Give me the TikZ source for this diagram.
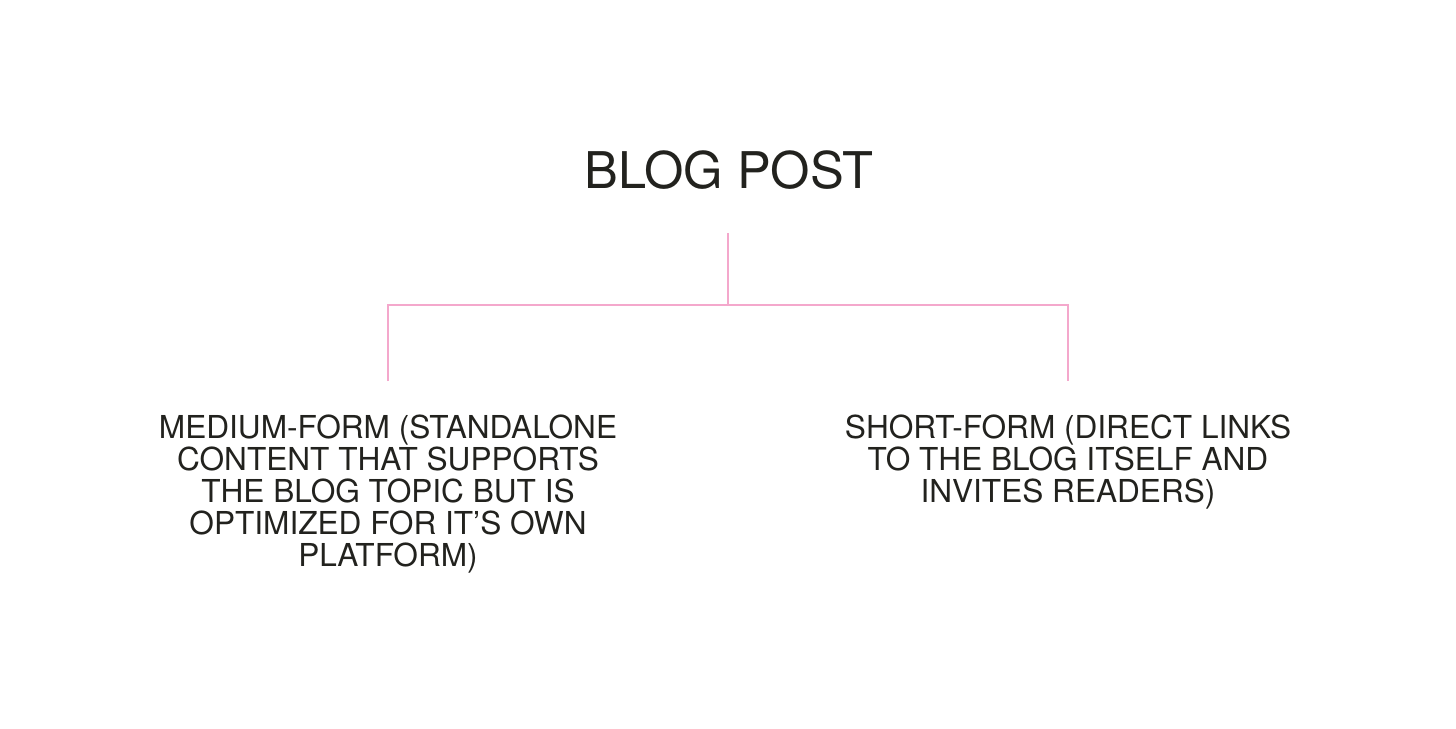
\documentclass[tikz,border=0pt]{standalone}
\usepackage{fontspec}
\setmainfont{TeX Gyre Heros}
\definecolor{inkdark}{RGB}{34,34,30}
\definecolor{linkpink}{RGB}{244,168,204}
\begin{document}
\begin{tikzpicture}[x=0.5pt,y=-0.5pt,
  titlestyle/.style={inner sep=0pt,anchor=base,text=inkdark,font=\fontsize{25.3}{30}\selectfont},
  branchstyle/.style={inner sep=0pt,anchor=north,align=center,text=inkdark,font=\fontsize{15.8}{16}\selectfont},
  linkstyle/.style={draw=linkpink,line width=1.4pt}]
\useasboundingbox[fill=white] (0,0) rectangle (1456,728);
\node[titlestyle] (title) at (729,188) {BLOG POST};
\coordinate (top) at (728,233);
\coordinate (mid) at (728,305);
\coordinate (lj) at (388,305);
\coordinate (rj) at (1068,305);
\coordinate (lb) at (388,381);
\coordinate (rb) at (1068,381);
\node[branchstyle] (left) at (388,414) {MEDIUM-FORM (STANDALONE\\CONTENT THAT SUPPORTS\\THE BLOG TOPIC BUT IS\\OPTIMIZED FOR IT’S OWN\\PLATFORM)};
\node[branchstyle] (right) at (1068,414) {SHORT-FORM (DIRECT LINKS\\TO THE BLOG ITSELF AND\\INVITES READERS)};
\draw[linkstyle] (top) -- (mid);
\draw[linkstyle] (lb) -- (lj) -- (rj) -- (rb);
\end{tikzpicture}
\end{document}
